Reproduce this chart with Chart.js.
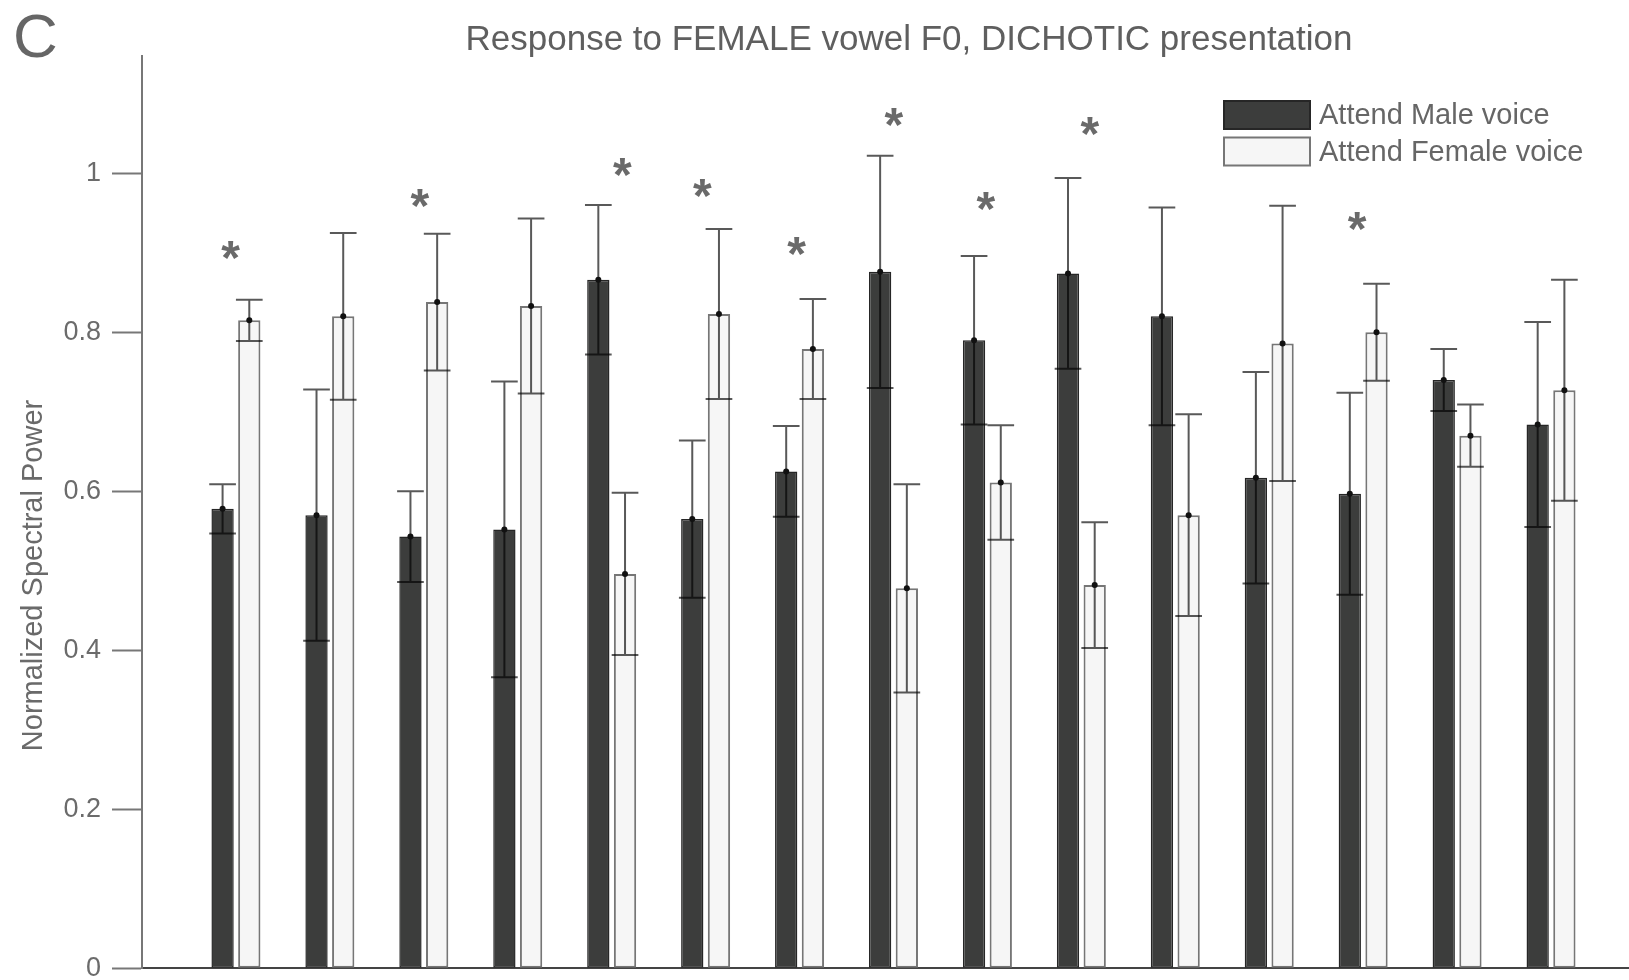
<!DOCTYPE html>
<html><head><meta charset="utf-8">
<script src="https://cdn.jsdelivr.net/npm/chart.js@4/dist/chart.umd.min.js"></script>
<style>html,body{margin:0;padding:0;background:#fff}#wrap{width:1629px;height:980px;position:relative}</style>
</head><body><div id="wrap"><canvas id="c"></canvas></div>
<script>
// ---- data ----
const groups = [1, 2, 3, 4, 5, 6, 7, 8, 9, 10, 11, 12, 13, 14, 15];
const maleMean = [0.578, 0.570, 0.543, 0.552, 0.866, 0.565, 0.625, 0.876, 0.790, 0.874, 0.820, 0.617, 0.597, 0.740, 0.684];
const maleErr  = [0.031, 0.158, 0.057, 0.186, 0.094, 0.099, 0.057, 0.146, 0.106, 0.120, 0.137, 0.133, 0.127, 0.039, 0.129];
const femaleMean = [0.815, 0.820, 0.838, 0.833, 0.496, 0.823, 0.779, 0.478, 0.611, 0.482, 0.570, 0.786, 0.800, 0.670, 0.727];
const femaleErr  = [0.026, 0.105, 0.086, 0.110, 0.102, 0.107, 0.063, 0.131, 0.072, 0.079, 0.127, 0.173, 0.061, 0.039, 0.139];
const yTicks = [0, 0.2, 0.4, 0.6, 0.8, 1];
const starX = [0.942, 2.958, 5.113, 5.965, 6.968, 8.005, 8.982, 10.089, 12.936];
const starY = [0.904, 0.969, 1.008, 0.981, 0.908, 1.071, 0.965, 1.059, 0.940];
const seriesNames = ['Attend Male voice', 'Attend Female voice'];
const titleText = 'Response to FEMALE vowel F0, DICHOTIC presentation';
const yLabel = 'Normalized Spectral Power';
const panelLabel = 'C';

const FONT = "'Liberation Sans', Arial, Helvetica, sans-serif";
const DARK = '#3c3d3c', DARK_EDGE = '#262626', LIGHT = '#f6f6f6', LIGHT_EDGE = '#767676';

const decor = {
  id: 'decor',
  afterDatasetsDraw(chart) {
    const ctx = chart.ctx, ys = chart.scales.y;
    const errs = [maleErr, femaleErr];
    ctx.save();
    chart.data.datasets.forEach((ds, di) => {
      const meta = chart.getDatasetMeta(di);
      meta.data.forEach((bar, i) => {
        const m = ds.data[i].y, e = errs[di][i];
        const x = bar.x;
        const yt = ys.getPixelForValue(m + e), yb = ys.getPixelForValue(m - e), ym = ys.getPixelForValue(m);
        const hw = bar.width / 2 + 2.2;
        ctx.strokeStyle = 'rgba(0,0,0,0.65)';
        ctx.lineWidth = 2;
        ctx.beginPath();
        ctx.moveTo(x, yt); ctx.lineTo(x, yb);
        ctx.moveTo(x - hw, yt); ctx.lineTo(x + hw, yt);
        ctx.moveTo(x - hw, yb); ctx.lineTo(x + hw, yb);
        ctx.stroke();
        ctx.fillStyle = '#111';
        ctx.beginPath(); ctx.arc(x, ym, 3, 0, Math.PI * 2); ctx.fill();
      });
    });
    // significance stars
    const xs = chart.scales.x;
    ctx.fillStyle = '#6a6a6a';
    ctx.font = 'bold 48px ' + FONT;
    ctx.textAlign = 'center';
    ctx.textBaseline = 'alphabetic';
    starX.forEach((sx, k) => {
      const mt = ctx.measureText('*');
      const a = mt.actualBoundingBoxAscent, d = mt.actualBoundingBoxDescent;
      const cy = ys.getPixelForValue(starY[k]);
      ctx.fillText('*', xs.getPixelForValue(sx), cy + (a - d) / 2);
    });
    ctx.restore();
  },
  afterDraw(chart) {
    const ctx = chart.ctx;
    ctx.save();
    // panel label
    ctx.fillStyle = '#666';
    ctx.font = '62px ' + FONT;
    ctx.textAlign = 'left'; ctx.textBaseline = 'alphabetic';
    ctx.fillText(panelLabel, 13, 57);
    // title
    ctx.fillStyle = '#5f5f5f';
    ctx.font = '35px ' + FONT;
    ctx.textAlign = 'center';
    ctx.fillText(titleText, 909, 50);
    // y label
    ctx.save();
    ctx.translate(42, 575.5);
    ctx.rotate(-Math.PI / 2);
    ctx.fillStyle = '#6a6a6a';
    ctx.font = '29px ' + FONT;
    ctx.textAlign = 'center';
    ctx.fillText(yLabel, 0, 0);
    ctx.restore();
    // legend
    const boxes = [[1224, 101, 86, 28], [1224, 137.5, 86, 28]];
    chart.data.datasets.forEach((ds, di) => {
      const [bx, by, bw, bh] = boxes[di];
      ctx.fillStyle = ds.backgroundColor;
      ctx.fillRect(bx, by, bw, bh);
      ctx.strokeStyle = ds.borderColor;
      ctx.lineWidth = 2;
      ctx.strokeRect(bx, by, bw, bh);
      ctx.fillStyle = '#666';
      ctx.font = '29px ' + FONT;
      ctx.textAlign = 'left'; ctx.textBaseline = 'middle';
      ctx.fillText(ds.label, 1319, by + bh / 2 + 1);
    });
    ctx.restore();
  }
};

new Chart(document.getElementById('c'), {
  type: 'bar',
  data: {
    datasets: [
      { label: seriesNames[0], data: groups.map((g, i) => ({ x: g, y: maleMean[i] })),
        backgroundColor: DARK, borderColor: DARK_EDGE, borderWidth: 1.5, borderSkipped: false },
      { label: seriesNames[1], data: groups.map((g, i) => ({ x: g, y: femaleMean[i] })),
        backgroundColor: LIGHT, borderColor: LIGHT_EDGE, borderWidth: 2, borderSkipped: false }
    ]
  },
  options: {
    responsive: true, maintainAspectRatio: false, animation: false,
    categoryPercentage: 0.5685, barPercentage: 0.835,
    layout: { padding: { top: 56, bottom: 11.7, left: 0, right: 0 } },
    plugins: { legend: { display: false }, title: { display: false }, tooltip: { enabled: false } },
    scales: {
      x: {
        type: 'linear', min: 0, max: 15.83, offset: false,
        afterBuildTicks: s => { s.ticks = groups.map(v => ({ value: v })); },
        afterFit: s => { s.height = 0; s.paddingLeft = 0; s.paddingRight = 0; },
        ticks: { display: false },
        grid: { display: true, drawOnChartArea: false, drawTicks: false },
        border: { display: true, color: '#444', width: 2 }
      },
      y: {
        type: 'linear', min: 0, max: 1.1475, position: 'left',
        afterBuildTicks: s => { s.ticks = yTicks.map(v => ({ value: v })); },
        afterFit: s => { s.width = 142; s.paddingTop = 0; s.paddingBottom = 0; },
        ticks: { color: '#6b6b6b', font: { family: FONT, size: 27 }, padding: 11,
                 callback: v => String(Math.round(v * 10) / 10) },
        grid: { display: true, drawOnChartArea: false, drawTicks: true, tickLength: 30, tickColor: '#777', tickWidth: 2 },
        border: { display: true, color: '#777', width: 2 }
      }
    }
  },
  plugins: [decor]
});
</script></body></html>
